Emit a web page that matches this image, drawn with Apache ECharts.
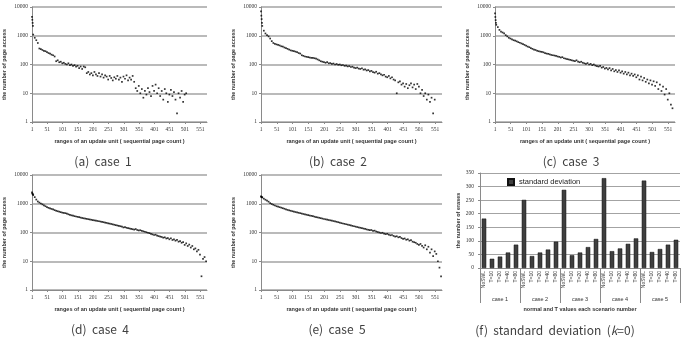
<!DOCTYPE html>
<html><head><meta charset="utf-8">
<script src="https://cdn.jsdelivr.net/npm/echarts@6/dist/echarts.min.js"></script>
<style>html,body{margin:0;padding:0;background:#fff}#c{width:682px;height:341px}</style>
</head><body><div id="c"></div>
<script>
// sequential page count positions (x)
const pageCount = [
  1,2,3,4,5,10,15,20,25,30,
  35,40,45,50,55,60,65,70,75,80,
  85,90,95,100,105,110,115,120,125,130,
  135,140,145,150,155,160,165,170,175,180,
  185,190,195,200,205,210,215,220,225,230,
  235,240,245,250,255,260,265,270,275,280,
  285,290,295,300,305,310,315,320,325,330,
  335,340,345,350,355,360,365,370,375,380,
  385,390,395,400,405,410,415,420,425,430,
  435,440,445,450,455,460,465,470,475,480,
  485,490,495,500,505,510,515,520,525,530,
  535,540,545,550,555,560,565,570
];
const case1 = [
  4500,3600,2800,2200,1100,850,700,560,360,340,
  320,300,290,270,250,240,220,210,190,130,
  140,120,125,110,115,105,100,110,95,100,
  90,95,85,90,75,85,70,85,80,50,
  55,45,50,42,55,45,40,50,38,45,
  35,42,38,30,40,34,28,36,32,40,
  30,35,25,38,32,42,28,35,30,40,
  25,15,12,18,10,14,7,12,9,15,
  11,8,18,12,20,10,15,8,12,6,
  14,10,5,9,13,8,11,6,2,10,
  7,12,5,9,10,null,null,null,null,null,
  null,null,null,null,null,null,null,null
];
const case2 = [
  7000,5000,3800,2800,2200,1500,1200,1050,950,800,
  650,560,520,500,480,460,430,420,390,370,
  350,330,310,300,290,280,270,250,240,210,
  200,190,185,180,175,170,170,165,160,150,
  140,130,125,120,115,120,110,112,105,108,
  100,104,98,100,94,96,90,92,86,88,
  82,84,78,75,78,72,70,74,66,68,
  62,64,58,60,54,52,56,48,50,45,
  42,44,38,36,40,33,36,30,28,10,
  24,26,20,22,17,21,15,19,22,16,
  20,14,21,17,10,13,8,10,6,9,
  5,7,2,6,null,null,null,null
];
const case3 = [
  6000,4500,3500,2800,2400,2000,1600,1400,1300,1200,
  1050,950,850,800,750,700,680,640,600,570,
  540,510,480,450,420,400,370,350,330,320,
  300,290,280,275,265,250,240,235,225,215,
  210,205,200,190,185,175,180,165,160,155,
  150,145,140,135,130,140,125,120,125,115,
  110,105,112,100,105,95,100,92,88,85,
  90,78,82,72,76,68,75,62,70,58,
  64,55,62,52,58,48,55,45,52,42,
  48,40,45,36,42,30,38,28,34,25,
  30,22,28,20,26,18,24,14,20,12,
  17,9,14,6,10,4,3,null
];
const case4 = [
  2500,2300,2200,2100,2000,1700,1400,1200,1100,1020,
  950,880,820,760,720,690,660,640,600,570,
  550,530,510,490,480,470,450,430,410,395,
  385,370,360,350,340,330,320,312,305,298,
  290,284,277,270,264,258,252,246,240,234,
  228,222,216,208,204,198,192,186,180,175,
  170,165,160,150,155,146,142,138,134,130,
  126,132,122,118,120,114,110,106,102,98,
  95,90,86,82,84,78,75,72,70,66,
  68,62,64,58,63,55,58,52,55,48,
  50,44,46,37,42,34,38,30,34,26,
  28,22,25,17,3,12,14,10
];
const case5 = [
  1800,1750,1700,1680,1650,1500,1380,1280,1180,1050,
  980,920,870,820,790,760,730,700,670,640,
  610,590,570,550,530,515,500,485,470,455,
  440,425,415,400,390,380,370,355,345,335,
  325,315,305,295,288,280,272,265,258,250,
  244,236,228,220,212,206,200,194,188,182,
  176,170,165,160,155,150,146,142,137,133,
  128,124,120,122,114,116,108,104,100,96,
  98,92,88,90,84,80,82,76,72,74,
  68,70,64,60,62,56,58,52,54,48,
  46,44,40,37,40,34,30,36,26,32,
  20,26,15,22,18,10,6,3
];
const scatterCases = [case1, case2, case3, case4, case5];

// bar chart (f)
const barCategories = ['NoSWL','T=10','T=20','T=40','T=80','NoSWL','T=10','T=20','T=40','T=80','NoSWL','T=10','T=20','T=40','T=80','NoSWL','T=10','T=20','T=40','T=80','NoSWL','T=10','T=20','T=40','T=80'];
const caseNames = ['case 1','case 2','case 3','case 4','case 5'];
const stdDev = [182,34,42,57,86, 251,44,57,68,97, 288,47,57,77,107, 331,62,72,89,109, 322,59,70,86,104];
const captions = ['(a)  case  1','(b)  case  2','(c)  case  3','(d)  case  4','(e)  case  5','(f)  standard  deviation  ({i|k}=0)'];

const grids = [
  {left:27, top:7, width:180, height:115},
  {left:261, top:7, width:181, height:115},
  {left:495, top:7, width:180, height:115},
  {left:27, top:175, width:180, height:115},
  {left:261, top:175, width:181, height:115},
  {left:480, top:173, width:200, height:95}
];
const capPos = [[103,154],[338,154],[571,154],[100,322],[337,322],[555,323]];

const gray = '#8a8a8a';
const txt = '#333';
const titleFont = {fontSize:5.5, fontWeight:'bold', fontFamily:'Liberation Sans', color:'#333'};
const tickFont = {fontSize:5.5, fontFamily:'Liberation Serif', color:'#333'};

const xAxes = [], yAxes = [], series = [];
for (let i = 0; i < 5; i++) {
  xAxes.push({
    type:'value', gridIndex:i, min:1, max:573, interval:50,
    splitLine:{show:false},
    axisLine:{show:true, lineStyle:{color:gray, width:1}},
    axisTick:{show:true, length:2, lineStyle:{color:gray}},
    axisLabel:Object.assign({margin:5, showMaxLabel:false, formatter:v => ((v - 1) % 50 === 0 ? String(v) : '')}, tickFont),
    name:'ranges of an update unit ( sequential page count )',
    nameLocation:'middle', nameGap:16, nameTextStyle:titleFont
  });
  yAxes.push({
    type:'log', logBase:10, gridIndex:i, min:1, max:10000,
    axisLine:{show:true, lineStyle:{color:gray, width:1}},
    axisTick:{show:true, length:2, lineStyle:{color:gray}},
    splitLine:{show:true, lineStyle:{color:'#a3a3a3', width:1.5}},
    axisLabel:Object.assign({margin:4, formatter:v => String(Math.round(v))}, tickFont),
    name:'the number of page access', nameLocation:'middle', nameGap:25, nameTextStyle:titleFont
  });
  series.push({
    type:'scatter', xAxisIndex:i, yAxisIndex:i, symbol:'rect', symbolSize:1.7,
    itemStyle:{color:'#000'}, silent:true,
    data: pageCount.map((x, j) => [x, scatterCases[i][j]]).filter(d => d[1] != null)
  });
}
xAxes.push({
  type:'category', gridIndex:5, data:barCategories,
  axisLine:{show:true, lineStyle:{color:gray}},
  axisTick:{show:false},
  axisLabel:{rotate:90, fontSize:5, margin:3, interval:0, color:txt, fontFamily:'Liberation Sans'}
});
xAxes.push({
  type:'category', gridIndex:5, data:caseNames, position:'bottom', offset:0,
  axisLine:{show:false},
  axisTick:{show:true, length:35, interval:0, lineStyle:{color:gray}},
  axisLabel:{fontSize:5.5, margin:28, interval:0, color:txt, fontFamily:'Liberation Sans'},
  name:'normal and T values each scenario number', nameLocation:'middle', nameGap:38, nameTextStyle:titleFont
});
yAxes.push({
  type:'value', gridIndex:5, min:0, max:350, interval:50,
  axisLine:{show:true, lineStyle:{color:gray}},
  axisTick:{show:true, length:2, lineStyle:{color:gray}},
  splitLine:{lineStyle:{color:'#a3a3a3', width:1}},
  axisLabel:Object.assign({margin:6}, tickFont),
  name:'the number of erases', nameLocation:'middle', nameGap:16, nameTextStyle:titleFont
});
series.push({
  type:'bar', name:'standard deviation', xAxisIndex:5, yAxisIndex:5, data:stdDev,
  barWidth:4.5, itemStyle:{color:'#3f3f3f', borderColor:'#111', borderWidth:0.5}
});

const chart = echarts.init(document.getElementById('c'), null, {renderer:'canvas'});
chart.setOption({
  animation:false,
  backgroundColor:'#fff',
  grid:grids,
  xAxis:xAxes, yAxis:yAxes, series:series,
  legend:{data:['standard deviation'], left:507, top:178, padding:0, icon:'rect', itemWidth:6, itemHeight:6, itemGap:5,
    textStyle:{fontSize:7.5, color:'#222', fontFamily:'Liberation Sans'}},
  title: captions.map((t, i) => ({
    text:t, left:capPos[i][0], top:capPos[i][1], textAlign:'center', padding:0,
    textStyle:{fontSize:12, fontWeight:'normal', color:'#404040', fontFamily:'Noto Sans CJK KR', lineHeight:14,
      rich:{i:{fontSize:12, fontStyle:'italic', color:'#404040', fontFamily:'Noto Sans CJK KR', lineHeight:14}}}
  }))
});
</script></body></html>
